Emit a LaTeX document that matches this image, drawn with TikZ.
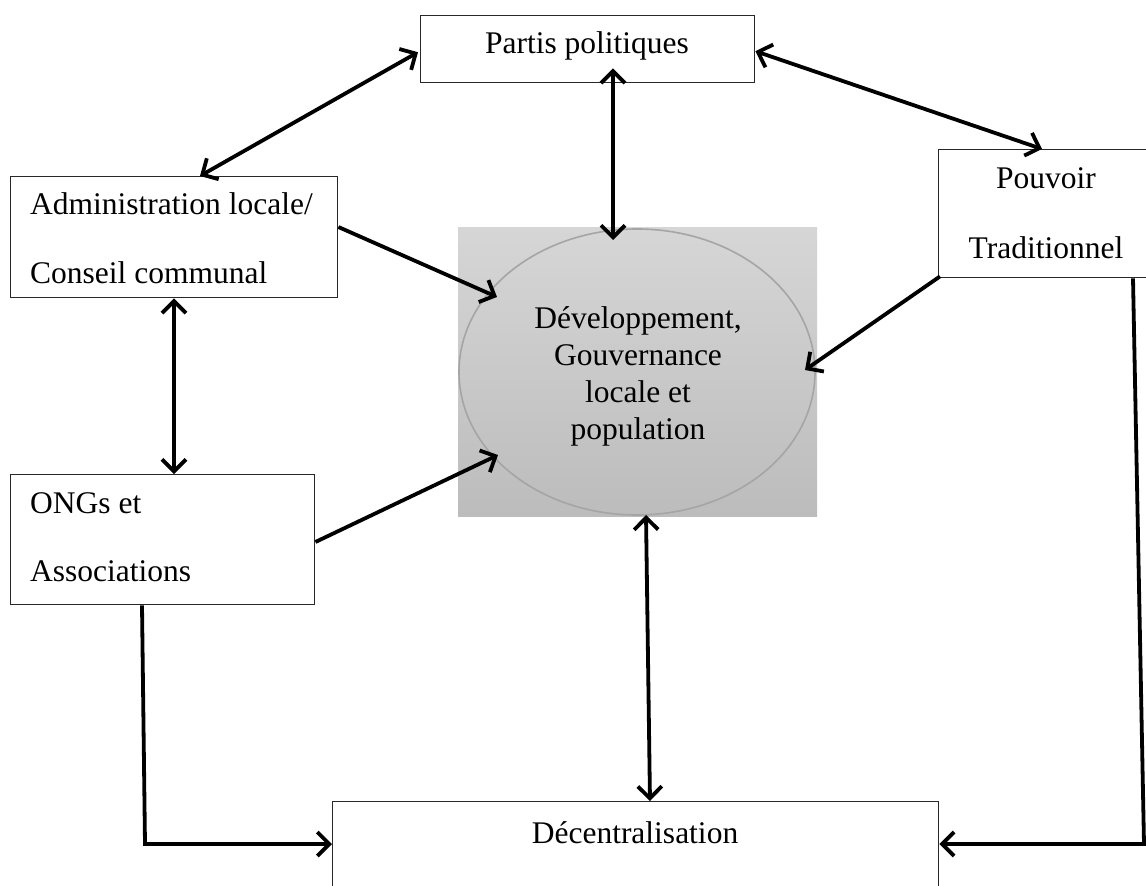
\documentclass[tikz,border=0pt]{standalone}
\usepackage{fontspec}
\setmainfont{Liberation Serif}
\usetikzlibrary{arrows.meta,shapes.geometric,calc}
\definecolor{gtop}{RGB}{214,214,214}
\definecolor{gbot}{RGB}{188,188,188}
\definecolor{ellline}{RGB}{165,165,165}
\definecolor{boxline}{RGB}{40,40,40}
\begin{document}
\begin{tikzpicture}[x=1pt,y=-1pt,
  box/.style={draw=boxline,line width=1.4pt,rectangle,inner sep=0pt,fill=white},
  lbl/.style={inner sep=0pt,font=\fontsize{31.5}{37}\selectfont},
  conn/.style={line width=3.8pt,-{Straight Barb[length=12pt,width=24pt]}},
  conn2/.style={line width=3.8pt,{Straight Barb[length=12pt,width=24pt]}-{Straight Barb[length=12pt,width=24pt]}}]
\useasboundingbox (0,0) rectangle (1146,886);
\clip (0,0) rectangle (1146,886);
\fill[white] (0,0) rectangle (1146,886);
% central shaded square and ellipse
\node[minimum width=359pt,minimum height=289pt,inner sep=0pt,top color=gtop,bottom color=gbot] (sq) at (637.5,371.5) {};
\node[ellipse,draw=ellline,line width=1.6pt,minimum width=356pt,minimum height=286pt,inner sep=0pt] (ell) at (637,372) {};
% boxes
\node[box,anchor=north west,minimum width=334pt,minimum height=67pt] (partis) at (420,15) {};
\node[box,anchor=north west,minimum width=327pt,minimum height=121pt] (admin) at (10,176) {};
\node[box,anchor=north west,minimum width=304pt,minimum height=130pt] (ongs) at (10,474) {};
\node[box,anchor=north west,minimum width=240pt,minimum height=128pt] (pouv) at (938,149) {};
\node[box,anchor=north west,minimum width=606pt,minimum height=120pt] (dec) at (332,801) {};
% texts
\node[lbl,anchor=base] (tpartis) at (587,53) {Partis politiques};
\node[lbl,anchor=base west] (tadmin) at (30,214) {\vtop{\baselineskip=69pt\hbox{Administration locale/}\hbox{Conseil communal}}};
\node[lbl,anchor=base west] (tongs) at (30,513) {\vtop{\baselineskip=68pt\hbox{ONGs et}\hbox{Associations}}};
\node[lbl,anchor=base] (tpouv) at (1046,188) {\vtop{\baselineskip=70pt\halign{\hfil#\hfil\cr Pouvoir\cr Traditionnel\cr}}};
\node[lbl,anchor=base] (tell) at (638,328) {\vtop{\baselineskip=37pt\halign{\hfil#\hfil\cr Développement,\cr Gouvernance\cr locale et\cr population\cr}}};
\node[lbl,anchor=base] (tdec) at (635,843) {Décentralisation};
% connectors
\coordinate (c1) at (145,844);
\coordinate (c2) at (1144,844);
\draw[conn2] ($(partis.west)+(-2,3)$) -- ($(admin.north west)+(190,0)$);
\draw[conn2] ($(partis.east)+(0,2)$) -- ($(pouv.north west)+(104,0)$);
\draw[conn2] ($(partis.south west)+(193,-15)$) -- ($(ell.center)+(-24,-132)$);
\draw[conn] ($(admin.north east)+(0,51)$) -- ($(ell.center)+(-140,-75)$);
\draw[conn] ($(ongs.north east)+(0,68)$) -- ($(ell.center)+(-139,83)$);
\draw[conn] ($(pouv.south west)+(2,-2)$) -- ($(ell.center)+(168,-2)$);
\draw[conn2] ($(admin.south west)+(164,0)$) -- ($(ongs.north west)+(164,0)$);
\draw[conn2] ($(ell.center)+(9,143)$) -- ($(dec.north west)+(318,0)$);
\draw[conn] ($(ongs.south west)+(132,0)$) -- (c1) -- (dec.west |- c1);
\draw[conn] ($(pouv.south west)+(195,0)$) -- (c2) -- (dec.east |- c2);
\end{tikzpicture}
\end{document}
